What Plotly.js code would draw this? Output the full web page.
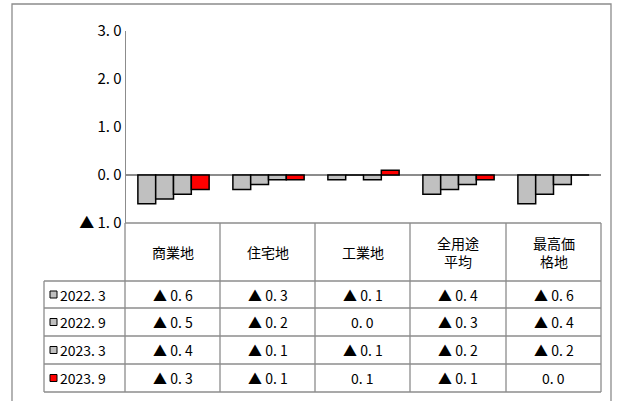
<!DOCTYPE html>
<html>
<head>
<meta charset="utf-8">
<script src="https://cdn.plot.ly/plotly-3.0.1.min.js"></script>
<style>html,body{margin:0;padding:0;background:#fff}#chart{width:618px;height:401px}</style>
</head>
<body>
<div id="chart"></div>
<script>
const categories = ["商業地", "住宅地", "工業地", "全用途<br>平均", "最高価<br>格地"];
const seriesNames = ["2022.3", "2022.9", "2023.3", "2023.9"];
const v2022_3 = [-0.6, -0.3, -0.1, -0.4, -0.6];
const v2022_9 = [-0.5, -0.2, 0.0, -0.3, -0.4];
const v2023_3 = [-0.4, -0.1, -0.1, -0.2, -0.2];
const v2023_9 = [-0.3, -0.1, 0.1, -0.1, 0.0];
const tickVals = [-1, 0, 1, 2, 3];
const tickText = ["▲ 1. 0", "0. 0", "1. 0", "2. 0", "3. 0"];

const W = 618, H = 401;
const FONT = "\"Noto Sans CJK JP\", sans-serif";
const GRID = "#8c8c8c";
const colors = ["#c0c0c0", "#c0c0c0", "#c0c0c0", "#ff0000"];
const allSeries = [v2022_3, v2022_9, v2023_3, v2023_9];
const px = x => x / W;
const py = y => 1 - y / H;

const fmt = v => (v < 0 ? "▲ " + Math.abs(v).toFixed(1) : v.toFixed(1)).replace(".", ". ");

const traces = allSeries.map((vals, i) => ({
  type: "bar",
  x: categories,
  y: vals,
  name: seriesNames[i],
  marker: { color: colors[i], line: { color: "#000", width: 1.5 } },
  hoverinfo: "skip",
}));

const colX = [125, 220, 315, 410, 506, 601];
const rowY = [223, 281, 308, 336, 364, 392];
const shapes = [];
const line = (x0, y0, x1, y1) => shapes.push({
  type: "line", xref: "paper", yref: "paper",
  x0: px(x0), y0: py(y0), x1: px(x1), y1: py(y1),
  line: { color: GRID, width: 1.3 },
});
// outer frame
shapes.push({ type: "rect", xref: "paper", yref: "paper", x0: px(12), y0: py(420), x1: px(611), y1: py(4), line: { color: GRID, width: 1.3 } });
line(125, 223, 601, 223);
for (let r = 1; r < rowY.length; r++) line(44, rowY[r], 601, rowY[r]);
line(44, 281, 44, 392);
colX.forEach(x => line(x, 223, x, 392));

const txt = (x, y, text, xanchor) => annotations.push({
  xref: "paper", yref: "paper", x: px(x), y: py(y), xanchor: xanchor || "center", yanchor: "middle",
  text, showarrow: false, font: { family: FONT, size: 14, color: "#000" },
});
const annotations = [];
categories.forEach((c, j) => {
  const xc = (colX[j] + colX[j + 1]) / 2;
  txt(xc, 252, c);
  allSeries.forEach((vals, i) => txt(xc, (rowY[i + 1] + rowY[i + 2]) / 2, fmt(vals[j])));
});
seriesNames.forEach((n, i) => {
  const yc = (rowY[i + 1] + rowY[i + 2]) / 2;
  shapes.push({ type: "rect", xref: "paper", yref: "paper", x0: px(50), x1: px(57), y0: py(yc + 3.5), y1: py(yc - 3.5),
    fillcolor: colors[i], line: { color: "#000", width: 1 } });
  txt(58, yc, n.replace(".", ". "), "left");
});

Plotly.newPlot("chart", traces, {
  width: W, height: H,
  margin: { l: 0, r: 0, t: 0, b: 0 },
  paper_bgcolor: "#fff", plot_bgcolor: "#fff",
  showlegend: false,
  bargap: 0.25, bargroupgap: 0,
  font: { family: FONT, size: 14, color: "#000" },
  xaxis: { domain: [px(126), px(601)], showticklabels: false, showline: false, showgrid: false, zeroline: false, fixedrange: true },
  yaxis: {
    domain: [py(223), py(31)], range: [-1, 3],
    tickvals: tickVals, ticktext: tickText, ticks: "", ticklen: 0,
    showgrid: false, zeroline: true, zerolinecolor: GRID, zerolinewidth: 1.3,
    showline: true, linecolor: GRID, linewidth: 1.3, fixedrange: true,
    tickfont: { family: FONT, size: 15, color: "#000" },
  },
  shapes, annotations,
}, { staticPlot: true });
</script>
</body>
</html>
